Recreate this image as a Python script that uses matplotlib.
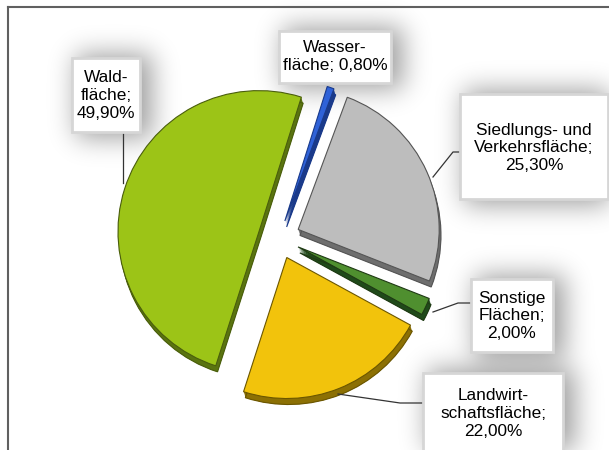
import matplotlib.pyplot as plt
from matplotlib.patches import Rectangle
from matplotlib.lines import Line2D
import numpy as np

# data (clockwise from the top)
labels = ["Wasser-\nfläche; 0,80%", "Siedlungs- und\nVerkehrsfläche;\n25,30%",
          "Sonstige\nFlächen;\n2,00%", "Landwirt-\nschaftsfläche;\n22,00%",
          "Wald-\nfläche;\n49,90%"]
values = [0.8, 25.3, 2.0, 22.0, 49.9]
colors = ["#2f62d8", "#bdbdbd", "#4f8f2f", "#f2c30c", "#9cc417"]
sides = ["#1a3a8a", "#6e6e6e", "#1f4a1a", "#8c7004", "#5a7410"]
edges = ["#1a3a8a", "#555555", "#1f3a14", "#6b5600", "#4a5e0c"]

W, H = 609, 450


def Y(y):
    # pixel row -> data y
    return H - y


def blur(a, s):
    n = int(3 * s)
    k = np.exp(-0.5 * (np.arange(-n, n + 1) / s) ** 2)
    k /= k.sum()
    a = np.apply_along_axis(lambda v: np.convolve(v, k, mode='same'), 0, a)
    a = np.apply_along_axis(lambda v: np.convolve(v, k, mode='same'), 1, a)
    return a


plt.rcParams['font.family'] = ['Liberation Sans', 'DejaVu Sans']

fig = plt.figure(figsize=(W / 100, H / 100), dpi=100)
ax = fig.add_axes([0, 0, 1, 1])

cx, cy, r = 279, Y(238), 141
expl = [18, 21, 21, 21, 21]

# 3d side: darker copies shifted down
for k in range(6, 0, -1):
    ax.pie(values, colors=sides, startangle=72.5, counterclock=False,
           explode=expl, radius=r, center=(cx + 0.3 * k, cy - k),
           frame=True, wedgeprops=dict(linewidth=0))
ws_last, _ = ax.pie(values, colors=sides, startangle=72.5, counterclock=False,
                    explode=expl, radius=r, center=(cx + 1.8, cy - 6),
                    frame=True, wedgeprops=dict(linewidth=0.8))
for w, e in zip(ws_last, edges):
    w.set_edgecolor(e)

wedges, _ = ax.pie(values, colors=colors, startangle=72.5, counterclock=False,
                   explode=expl, radius=r, center=(cx, cy), frame=True,
                   wedgeprops=dict(linewidth=0.8))
for w, e in zip(wedges, edges):
    w.set_edgecolor(e)

ax.set_xlim(0, W)
ax.set_ylim(0, H)
ax.set_aspect('equal')
ax.axis('off')

# label boxes: left, top, right, bottom (pixels)
boxes = [
    (279, 31, 391, 83),
    (460, 94, 608, 199),
    (471, 279, 553, 352),
    (423, 373, 563, 470),
    (72, 58, 140, 132),
]
text_y = [57, 148, 316, 413, 96]

# soft shadow behind the label boxes
mask = np.zeros((H, W))
for l, t, rr, b in boxes:
    mask[max(t - 4, 0):min(b + 6, H), max(l + 4, 0):min(rr + 12, W)] = 1
sh = blur(mask, 13)
rgba = np.zeros((H, W, 4))
rgba[..., 3] = np.clip(sh * 0.38, 0, 1)
ax.imshow(rgba, extent=(0, W, 0, H), origin='upper', zorder=0.5,
          interpolation='bilinear')
ax.set_xlim(0, W)
ax.set_ylim(0, H)

# leader lines
leaders = [
    None,
    [(460, 152), (453, 152), (433, 177)],
    [(471, 303), (458, 303), (433, 312)],
    [(423, 403), (400, 403), (338, 394)],
    [(123, 132), (123, 183)],
]
for pts in leaders:
    if pts is None:
        continue
    xs = [p[0] for p in pts]
    ys = [Y(p[1]) for p in pts]
    ax.plot(xs, ys, color="#333333", lw=0.9, zorder=3)

for (l, t, rr, b), lab, ty in zip(boxes, labels, text_y):
    ax.add_patch(Rectangle((l, Y(b)), rr - l, b - t, facecolor="white",
                           edgecolor="#d6d6d6", lw=2, zorder=5))
    ax.text((l + rr) / 2, Y(ty), lab, ha="center", va="center", fontsize=12.4,
            color="#000000", linespacing=1.25, zorder=6)

# outer frame (top and left visible)
fig.add_artist(Line2D([8 / W, 1], [1 - 7 / H, 1 - 7 / H], color="#606060", lw=1.5))
fig.add_artist(Line2D([8 / W, 8 / W], [0, 1 - 7 / H], color="#606060", lw=1.5))

fig.savefig("out.png", dpi=100, facecolor="white")
